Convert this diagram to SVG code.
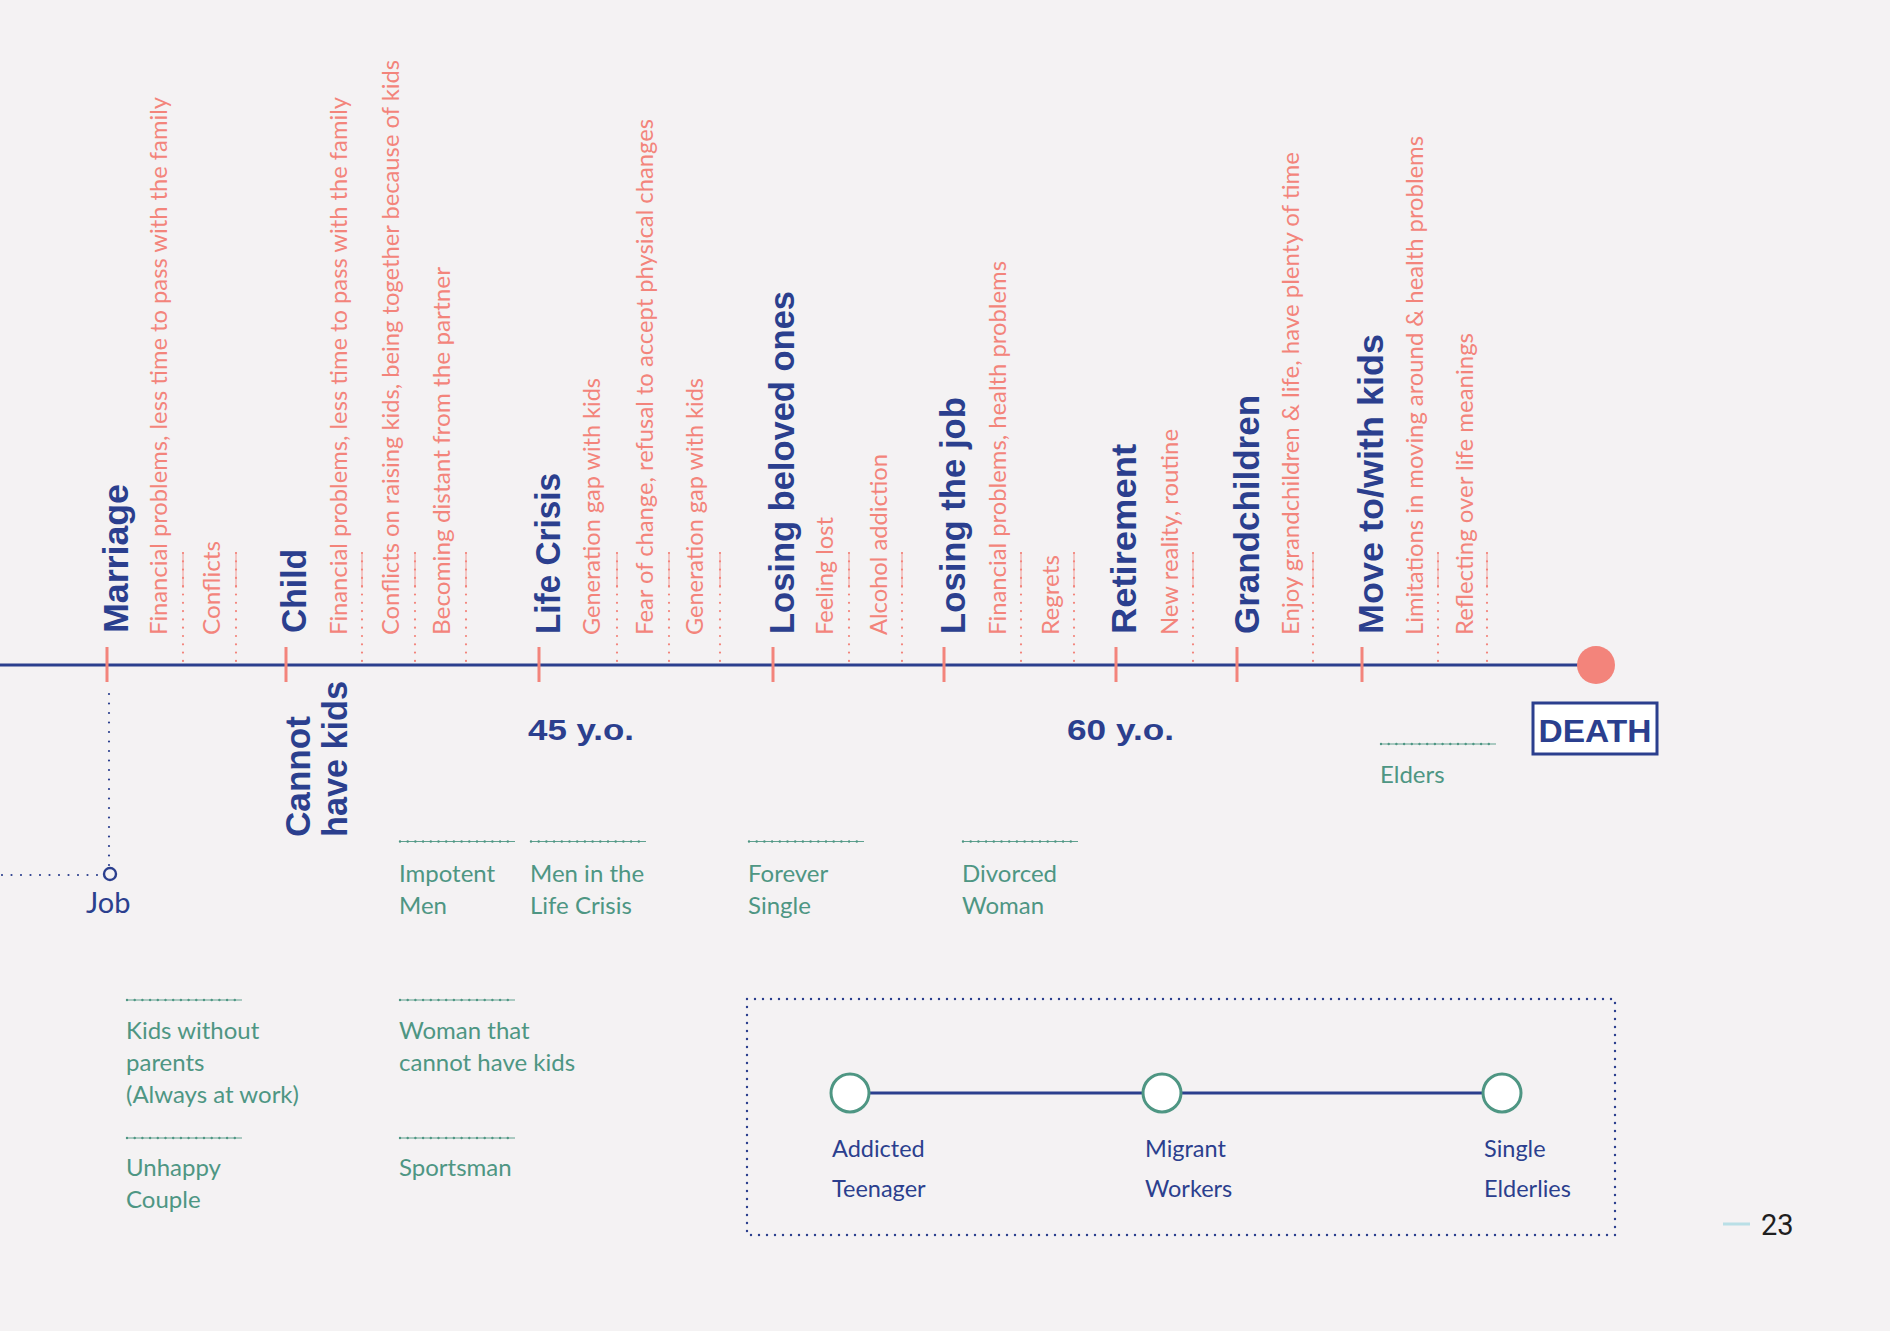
<svg xmlns="http://www.w3.org/2000/svg" width="1890" height="1331" viewBox="0 0 1890 1331">
  <style>
    .title { font-family: "Liberation Sans", Arial, sans-serif; font-weight: 700; font-size: 35px; fill: #2b3f8e; }
    .age { font-size: 30px; }
    .death { font-size: 31px; }
    .sub { font-family: Lato, "Open Sans", sans-serif; font-size: 24px; fill: #f3847b; }
    .lbl { font-family: Lato, "Open Sans", sans-serif; font-size: 24px; fill: #4e9683; }
    .nv { font-family: Lato, "Open Sans", sans-serif; font-size: 23.5px; fill: #2b3f8e; }
    .nv-lg { font-size: 29px; }
    .tick { stroke: #f3847b; stroke-width: 3; }
    .sep { stroke: #f3847b; stroke-width: 2.2; stroke-dasharray: 0 8.3; stroke-linecap: round; fill: none; }
    .sepcap { stroke: #f3847b; stroke-width: 0.8; fill: none; }
    .gdot { stroke: #4e9683; stroke-width: 2.4; stroke-dasharray: 0 7.7; stroke-linecap: round; fill: none; }
    .gline { stroke: #4e9683; stroke-width: 0.9; fill: none; }
    .ndot { stroke: #2b3f8e; stroke-width: 2.2; stroke-dasharray: 0 9.5; stroke-linecap: round; fill: none; }
    .box { stroke: #2b3f8e; stroke-width: 2.4; stroke-dasharray: 0 8; stroke-linecap: round; fill: none; }
    .ring { fill: #ffffff; stroke: #4e9683; stroke-width: 3; }
  </style>
  <defs>
    <!-- coral dotted separator between sub-notes, drawn from the axis upward -->
    <g id="sep">
      <line class="sep" x1="0" y1="553" x2="0" y2="667"/>
      <line class="sepcap" x1="0" y1="552" x2="0" y2="588"/>
    </g>
    <!-- green dotted rule above persona labels -->
    <g id="grule">
      <line class="gline" x1="0" y1="0" x2="115" y2="0"/>
      <line class="gdot" x1="0" y1="0" x2="115" y2="0"/>
    </g>
  </defs>

  <rect width="1890" height="1331" fill="#f4f2f3"/>

  <!-- connectors -->
  <g id="connectors">
    <line x1="0" y1="665" x2="1580" y2="665" stroke="#2b3f8e" stroke-width="3"/>
    <line class="ndot" x1="109" y1="694" x2="109" y2="866"/>
    <line class="ndot" x1="2" y1="875" x2="102" y2="875"/>
    <line x1="850" y1="1093" x2="1502" y2="1093" stroke="#2b3f8e" stroke-width="3.2"/>
  </g>

  <!-- Marriage -->
  <g id="ev-marriage">
    <line class="tick" x1="107" y1="647" x2="107" y2="682"/>
    <text class="title" transform="translate(128,633) rotate(-90)" textLength="149" lengthAdjust="spacingAndGlyphs">Marriage</text>
    <text class="sub" transform="translate(167,635) rotate(-90)" textLength="538" lengthAdjust="spacingAndGlyphs">Financial problems, less time to pass with the family</text>
    <use href="#sep" x="183"/>
    <text class="sub" transform="translate(220,635) rotate(-90)" textLength="94" lengthAdjust="spacingAndGlyphs">Conflicts</text>
    <use href="#sep" x="236"/>
  </g>

  <!-- Child -->
  <g id="ev-child">
    <line class="tick" x1="286" y1="647" x2="286" y2="682"/>
    <text class="title" transform="translate(306,633) rotate(-90)" textLength="84" lengthAdjust="spacingAndGlyphs">Child</text>
    <text class="sub" transform="translate(347,635) rotate(-90)" textLength="538" lengthAdjust="spacingAndGlyphs">Financial problems, less time to pass with the family</text>
    <use href="#sep" x="362"/>
    <text class="sub" transform="translate(399,635) rotate(-90)" textLength="575" lengthAdjust="spacingAndGlyphs">Conflicts on raising kids, being together because of kids</text>
    <use href="#sep" x="415"/>
    <text class="sub" transform="translate(450,635) rotate(-90)" textLength="368" lengthAdjust="spacingAndGlyphs">Becoming  distant from the partner</text>
    <use href="#sep" x="466"/>
  </g>

  <!-- Cannot have kids -->
  <g id="ev-cannot-have-kids">
    <text class="title" transform="translate(310,837) rotate(-90)" textLength="121" lengthAdjust="spacingAndGlyphs">Cannot</text>
    <text class="title" transform="translate(347,837) rotate(-90)" textLength="156" lengthAdjust="spacingAndGlyphs">have kids</text>
  </g>

  <!-- Life Crisis -->
  <g id="ev-life-crisis">
    <line class="tick" x1="539" y1="647" x2="539" y2="682"/>
    <text class="title" transform="translate(560,634) rotate(-90)" textLength="161" lengthAdjust="spacingAndGlyphs">Life Crisis</text>
    <text class="sub" transform="translate(600,635) rotate(-90)" textLength="257" lengthAdjust="spacingAndGlyphs">Generation gap with kids</text>
    <use href="#sep" x="617"/>
    <text class="sub" transform="translate(653,635) rotate(-90)" textLength="516" lengthAdjust="spacingAndGlyphs">Fear of change, refusal to accept physical changes</text>
    <use href="#sep" x="669"/>
    <text class="sub" transform="translate(703,635) rotate(-90)" textLength="257" lengthAdjust="spacingAndGlyphs">Generation gap with kids</text>
    <use href="#sep" x="720"/>
  </g>

  <!-- Losing beloved ones -->
  <g id="ev-losing-beloved">
    <line class="tick" x1="773" y1="647" x2="773" y2="682"/>
    <text class="title" transform="translate(794,634) rotate(-90)" textLength="343" lengthAdjust="spacingAndGlyphs">Losing beloved ones</text>
    <text class="sub" transform="translate(833,635) rotate(-90)" textLength="118" lengthAdjust="spacingAndGlyphs">Feeling lost</text>
    <use href="#sep" x="849"/>
    <text class="sub" transform="translate(887,635) rotate(-90)" textLength="181" lengthAdjust="spacingAndGlyphs">Alcohol addiction</text>
    <use href="#sep" x="902"/>
  </g>

  <!-- Losing the job -->
  <g id="ev-losing-job">
    <line class="tick" x1="944" y1="647" x2="944" y2="682"/>
    <text class="title" transform="translate(965,634) rotate(-90)" textLength="237" lengthAdjust="spacingAndGlyphs">Losing the job</text>
    <text class="sub" transform="translate(1006,635) rotate(-90)" textLength="374" lengthAdjust="spacingAndGlyphs">Financial problems, health problems</text>
    <use href="#sep" x="1021"/>
    <text class="sub" transform="translate(1059,635) rotate(-90)" textLength="80" lengthAdjust="spacingAndGlyphs">Regrets</text>
    <use href="#sep" x="1074"/>
  </g>

  <!-- Retirement -->
  <g id="ev-retirement">
    <line class="tick" x1="1116" y1="647" x2="1116" y2="682"/>
    <text class="title" transform="translate(1136,634) rotate(-90)" textLength="190" lengthAdjust="spacingAndGlyphs">Retirement</text>
    <text class="sub" transform="translate(1178,635) rotate(-90)" textLength="206" lengthAdjust="spacingAndGlyphs">New reality, routine</text>
    <use href="#sep" x="1193"/>
  </g>

  <!-- Grandchildren -->
  <g id="ev-grandchildren">
    <line class="tick" x1="1237" y1="647" x2="1237" y2="682"/>
    <text class="title" transform="translate(1259,634) rotate(-90)" textLength="239" lengthAdjust="spacingAndGlyphs">Grandchildren</text>
    <text class="sub" transform="translate(1299,635) rotate(-90)" textLength="483" lengthAdjust="spacingAndGlyphs">Enjoy grandchildren &amp; life, have plenty of time</text>
    <use href="#sep" x="1313"/>
  </g>

  <!-- Move to/with kids -->
  <g id="ev-move">
    <line class="tick" x1="1362" y1="647" x2="1362" y2="682"/>
    <text class="title" transform="translate(1383,634) rotate(-90)" textLength="300" lengthAdjust="spacingAndGlyphs">Move to/with kids</text>
    <text class="sub" transform="translate(1423,635) rotate(-90)" textLength="499" lengthAdjust="spacingAndGlyphs">Limitations in moving around &amp; health problems</text>
    <use href="#sep" x="1438"/>
    <text class="sub" transform="translate(1473,635) rotate(-90)" textLength="302" lengthAdjust="spacingAndGlyphs">Reflecting over life meanings</text>
    <use href="#sep" x="1487"/>
  </g>

  <!-- Death -->
  <g id="ev-death">
    <circle cx="1596" cy="665" r="19" fill="#f3847b"/>
    <rect x="1533" y="703" width="124" height="51" fill="#ffffff" stroke="#2b3f8e" stroke-width="3"/>
    <text class="title death" x="1595" y="742" text-anchor="middle" textLength="113" lengthAdjust="spacingAndGlyphs">DEATH</text>
  </g>

  <!-- age markers -->
  <g id="age-45">
    <text class="title age" x="528" y="740" textLength="106" lengthAdjust="spacingAndGlyphs">45 y.o.</text>
  </g>
  <g id="age-60">
    <text class="title age" x="1067" y="740" textLength="107" lengthAdjust="spacingAndGlyphs">60 y.o.</text>
  </g>

  <!-- Job -->
  <g id="job">
    <circle cx="110" cy="874" r="6" fill="#f4f2f3" stroke="#2b3f8e" stroke-width="2.4"/>
    <text class="nv nv-lg" x="86" y="913">Job</text>
  </g>

  <!-- persona labels -->
  <g id="p-impotent-men">
    <use href="#grule" x="400" y="841.5"/>
    <text class="lbl" x="399" y="882">Impotent</text>
    <text class="lbl" x="399" y="914">Men</text>
  </g>
  <g id="p-men-life-crisis">
    <use href="#grule" x="531" y="841.5"/>
    <text class="lbl" x="530" y="882">Men in the</text>
    <text class="lbl" x="530" y="914">Life Crisis</text>
  </g>
  <g id="p-forever-single">
    <use href="#grule" x="749" y="841.5"/>
    <text class="lbl" x="748" y="882">Forever</text>
    <text class="lbl" x="748" y="914">Single</text>
  </g>
  <g id="p-divorced-woman">
    <use href="#grule" x="963" y="841.5"/>
    <text class="lbl" x="962" y="882">Divorced</text>
    <text class="lbl" x="962" y="914">Woman</text>
  </g>
  <g id="p-elders">
    <use href="#grule" x="1381" y="744"/>
    <text class="lbl" x="1380" y="783">Elders</text>
  </g>
  <g id="p-kids-without-parents">
    <use href="#grule" x="127" y="1000"/>
    <text class="lbl" x="126" y="1039">Kids without</text>
    <text class="lbl" x="126" y="1071">parents</text>
    <text class="lbl" x="126" y="1103">(Always at work)</text>
  </g>
  <g id="p-woman-no-kids">
    <use href="#grule" x="400" y="1000"/>
    <text class="lbl" x="399" y="1039">Woman that</text>
    <text class="lbl" x="399" y="1071">cannot have kids</text>
  </g>
  <g id="p-unhappy-couple">
    <use href="#grule" x="127" y="1138"/>
    <text class="lbl" x="126" y="1176">Unhappy</text>
    <text class="lbl" x="126" y="1208">Couple</text>
  </g>
  <g id="p-sportsman">
    <use href="#grule" x="400" y="1138"/>
    <text class="lbl" x="399" y="1176">Sportsman</text>
  </g>

  <!-- legend of focus personas -->
  <g id="legend">
    <rect class="box" x="747" y="999" width="868" height="236"/>
  </g>
  <g id="n-addicted-teenager">
    <circle class="ring" cx="850" cy="1093" r="19"/>
    <text class="nv" x="832" y="1157">Addicted</text>
    <text class="nv" x="832" y="1197">Teenager</text>
  </g>
  <g id="n-migrant-workers">
    <circle class="ring" cx="1162" cy="1093" r="19"/>
    <text class="nv" x="1145" y="1157">Migrant</text>
    <text class="nv" x="1145" y="1197">Workers</text>
  </g>
  <g id="n-single-elderlies">
    <circle class="ring" cx="1502" cy="1093" r="19"/>
    <text class="nv" x="1484" y="1157">Single</text>
    <text class="nv" x="1484" y="1197">Elderlies</text>
  </g>

  <!-- page number -->
  <g id="page-number">
    <line x1="1723" y1="1224" x2="1750" y2="1224" stroke="#b9dfe6" stroke-width="3"/>
    <text x="1761" y="1235" font-family="Roboto, 'Liberation Sans', sans-serif" font-size="29" fill="#1f1f1f">23</text>
  </g>
</svg>
